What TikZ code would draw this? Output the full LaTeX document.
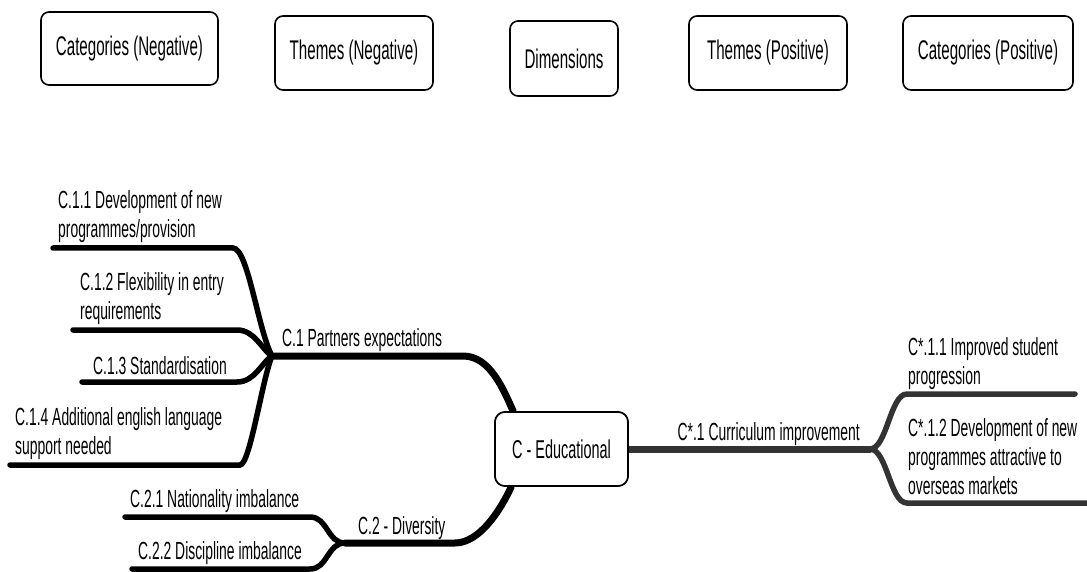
\documentclass[tikz,border=0pt]{standalone}
\usepackage{fontspec}
\setmainfont{Liberation Sans}[FakeStretch=0.56]
\usetikzlibrary{positioning}
\definecolor{posline}{HTML}{333333}

\tikzset{
  header/.style={draw,rounded corners=8pt,line width=1.6pt,inner sep=0pt,
    font=\fontsize{27}{31}\selectfont},
  dimbox/.style={draw,fill=white,rounded corners=10pt,line width=1.6pt,inner sep=0pt,
    minimum width=133pt,minimum height=74pt,font=\fontsize{25.8}{30}\selectfont},
  leaf/.style={inner sep=0pt,text depth=0pt,align=left,
    font=\fontsize{24.8}{29}\selectfont},
  branch/.style={line width=7pt,line cap=round},
  twig/.style={line width=5.5pt,line cap=round}
}

\begin{document}
\begin{tikzpicture}[x=1pt,y=-1pt]
\useasboundingbox (0,0) rectangle (1087,572);

% column headers
\node [header,minimum width=177pt,minimum height=73pt] (negcat) at (129.5,48.5) {Categories (Negative)};
\node [header,minimum width=158pt,minimum height=74pt] (negthm) at (354,53) {Themes (Negative)};
\node [header,minimum width=108pt,minimum height=75pt] (dims) at (564,58.5) {Dimensions};
\node [header,minimum width=158pt,minimum height=74pt] (posthm) at (768,53) {Themes (Positive)};
\node [header,minimum width=170pt,minimum height=74pt] (poscat) at (988,53) {Categories (Positive)};

% junctions and line starts
\coordinate (j1) at (272,356);
\coordinate (j2) at (345,543);
\coordinate (j3) at (870,449);
\coordinate (l11) at (53,248);
\coordinate (l12) at (73,330);
\coordinate (l13) at (82,382);
\coordinate (l14) at (10,465);
\coordinate (l21) at (125,517);
\coordinate (l22) at (132,569);
\coordinate (r11) at (907,394);
\coordinate (r12) at (907,503);

\node [dimbox] (edu) at (561.5,449) {C - Educational};

% negative side
\begin{scope}[black]
\draw [twig] (l11) -- ++(180,0) .. controls +(15,0) and +(-14,-26) .. (j1);
\draw [twig] (l12) -- ++(164,0) .. controls +(18,0) and +(-10,-6) .. (j1);
\draw [twig] (l13) -- ++(155,0) .. controls +(18,0) and +(-10,6) .. (j1);
\draw [twig] (l14) -- ++(230,0) .. controls +(10,0) and +(-10,24) .. (j1);
\draw [branch] (j1) -- ++(191,0) .. controls +(27,0) and +(-10,-22) .. ([xshift=19pt]edu.north west);
\draw [twig] (l21) -- ++(185,0) .. controls +(18,0) and +(-18,0) .. (j2);
\draw [twig] (l22) -- ++(178,0) .. controls +(18,0) and +(-18,0) .. (j2);
\draw [branch] (j2) -- ++(110,0) .. controls +(25,0) and +(-10,22) .. ([xshift=17pt]edu.south west);
\end{scope}

% positive side
\begin{scope}[posline]
\draw [branch] (edu.east) -- (j3);
\draw [twig] (j3) .. controls +(17,0) and +(-17,0) .. (r11) -- ++(168,0);
\draw [twig] (j3) .. controls +(17,0) and +(-17,0) .. (r12) -- ++(185,0);
\end{scope}

\node [dimbox] at (edu) {C - Educational};

% labels
\node [leaf,above right=10pt and 5pt of l11] (c11) {C.1.1 Development of new\\programmes/provision};
\node [leaf,above right=10pt and 7pt of l12] (c12) {C.1.2 Flexibility in entry\\requirements};
\node [leaf,above right=7pt and 11pt of l13] (c13) {C.1.3 Standardisation};
\node [leaf,above right=10pt and 5pt of l14] (c14) {C.1.4 Additional english language\\support needed};
\node [leaf,above right=9pt and 10pt of j1] (c1) {C.1 Partners expectations};
\node [leaf,above right=9pt and 5pt of l21] (c21) {C.2.1 Nationality imbalance};
\node [leaf,above right=9pt and 6pt of l22] (c22) {C.2.2 Discipline imbalance};
\node [leaf,above right=8pt and 13pt of j2] (c2) {C.2 - Diversity};
\node [leaf,above left=8pt and 10pt of j3] (cs1) {C*.1 Curriculum improvement};
\node [leaf,above right=9pt and 1pt of r11] (cs11) {C*.1.1 Improved student\\progression};
\node [leaf,above right=8pt and 1pt of r12] (cs12) {C*.1.2 Development of new\\programmes attractive to\\overseas markets};
\end{tikzpicture}
\end{document}
